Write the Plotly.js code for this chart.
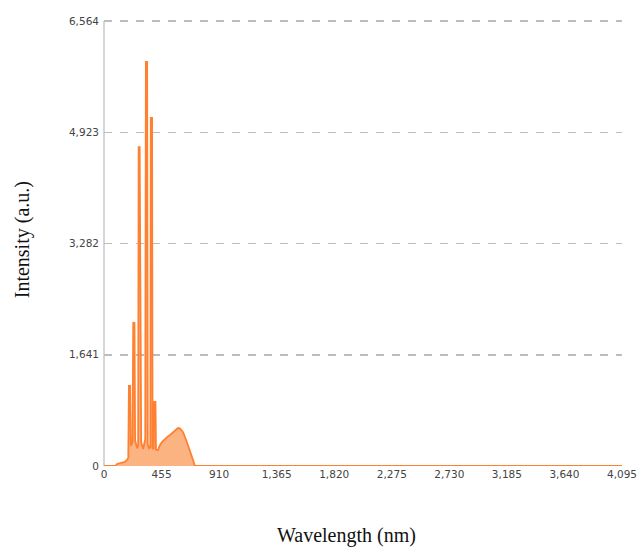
<!DOCTYPE html>
<html>
<head>
<meta charset="utf-8">
<script src="https://cdn.plot.ly/plotly-3.0.1.min.js"></script>
<style>
html,body{margin:0;padding:0;background:#fff;}
#chart{width:641px;height:547px;}
</style>
</head>
<body>
<div id="chart"></div>
<script>
// Wavelength (nm) sample points
const wavelength = [0, 90, 103, 130, 165, 182, 192, 197, 207, 212, 226, 231, 241, 246, 262, 270, 274, 282, 285, 290, 294, 310, 326, 331, 341, 346, 356, 366, 370, 380, 384, 392, 397, 407, 411, 427, 440, 458, 480, 500, 522, 545, 565, 585, 600, 625, 650, 680, 700, 719, 4095];
// Intensity (a.u.)
const intensity = [0, 0, 30, 40, 60, 90, 120, 1180, 1180, 300, 350, 2110, 2110, 380, 260, 300, 4705, 4705, 2850, 2850, 350, 250, 400, 5960, 5960, 320, 260, 280, 5133, 5133, 260, 250, 944, 944, 240, 236, 300, 354, 400, 430, 457, 490, 530, 560, 555, 500, 380, 236, 110, 0, 0];

const yTicks = [0, 1641, 3282, 4923, 6564];
const xTicks = [0, 455, 910, 1365, 1820, 2275, 2730, 3185, 3640, 4095];

const trace = {
  x: wavelength,
  y: intensity,
  type: 'scatter',
  mode: 'lines',
  fill: 'tozeroy',
  fillcolor: 'rgba(250,150,80,0.72)',
  line: {color: '#ff8030', width: 1.8},
  hoverinfo: 'skip'
};

const tickFont = {family: 'DejaVu Sans', size: 10.5, color: '#444'};

const layout = {
  width: 641,
  height: 547,
  margin: {l: 104, r: 19, t: 16, b: 81},
  paper_bgcolor: '#fff',
  plot_bgcolor: '#fff',
  showlegend: false,
  xaxis: {
    range: [0, 4095],
    tickvals: xTicks,
    tickformat: ',',
    tickfont: tickFont,
    showgrid: false,
    zeroline: false,
    showline: false,
    ticks: ''
  },
  yaxis: {
    range: [0, 6637.75],
    tickvals: yTicks,
    tickformat: ',',
    tickfont: tickFont,
    showgrid: true,
    gridcolor: '#bdbdbd',
    gridwidth: 1.5,
    griddash: '8px,8px',
    zeroline: false,
    showline: false,
    ticks: '',
    ticklabelstandoff: 4
  },
  shapes: [
    {
      type: 'line', xref: 'paper', yref: 'y',
      x0: 0, x1: 0, y0: 0, y1: yTicks[yTicks.length - 1],
      line: {color: '#c8c8c8', width: 1.5},
      layer: 'below'
    }
  ],
  annotations: [
    {
      text: 'Wavelength (nm)',
      xref: 'paper', yref: 'paper',
      x: 0.469, y: -0.155,
      xanchor: 'center', yanchor: 'middle',
      showarrow: false,
      font: {family: 'Liberation Serif', size: 20, color: '#111'}
    },
    {
      text: 'Intensity (a.u.)',
      xref: 'paper', yref: 'paper',
      x: -0.158, y: 0.502,
      xanchor: 'center', yanchor: 'middle',
      textangle: -90,
      showarrow: false,
      font: {family: 'Liberation Serif', size: 20, color: '#111'}
    }
  ]
};

Plotly.newPlot('chart', [trace], layout, {displayModeBar: false, staticPlot: true});
</script>
</body>
</html>
